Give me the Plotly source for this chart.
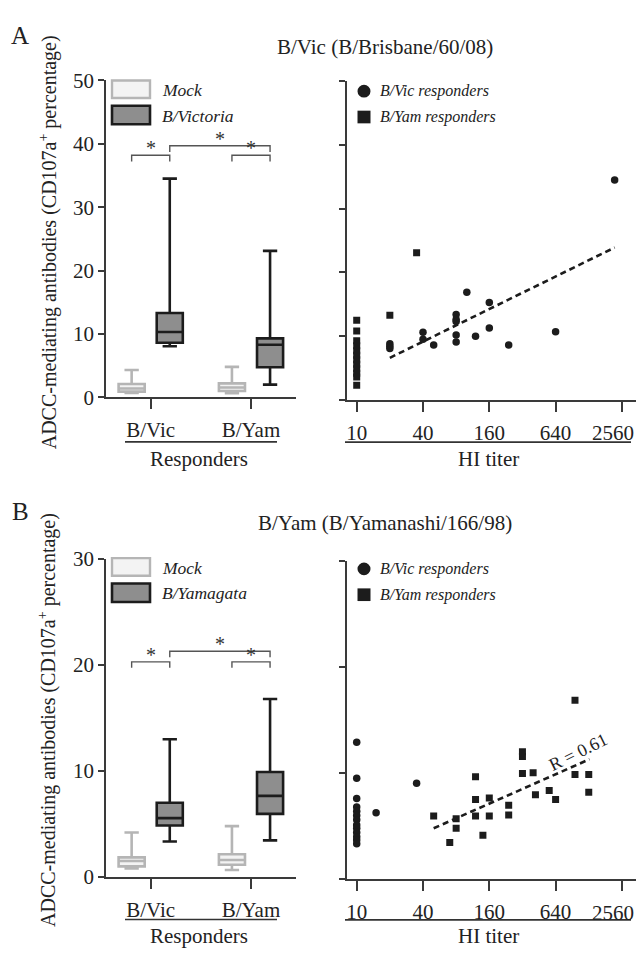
import plotly.graph_objects as go

W, H = 644, 957
FONT = "Liberation Serif"
INK = "#1c1c1c"
AXIS = "#3a3a3a"
MOCK_LINE = "#b5b5b5"
MOCK_FILL = "#f3f3f3"
STIM_FILL = "#8e8e8e"

# ---------------- data ----------------
groups = ["B/Vic", "B/Yam"]

# Panel A (B/Vic antigen) box statistics: [B/Vic responders, B/Yam responders]
a_mock_low = [0.7, 0.66]
a_mock_q1 = [0.9, 1.0]
a_mock_med = [1.4, 1.55]
a_mock_q3 = [2.1, 2.2]
a_mock_high = [4.3, 4.8]
a_stim_low = [8.05, 2.0]
a_stim_q1 = [8.6, 4.75]
a_stim_med = [10.3, 8.3]
a_stim_q3 = [13.3, 9.3]
a_stim_high = [34.5, 23.1]

# Panel B (B/Yam antigen) box statistics
b_mock_low = [0.8, 0.65]
b_mock_q1 = [1.0, 1.15]
b_mock_med = [1.5, 1.6]
b_mock_q3 = [1.85, 2.15]
b_mock_high = [4.2, 4.8]
b_stim_low = [3.35, 3.45]
b_stim_q1 = [4.85, 5.95]
b_stim_med = [5.55, 7.65]
b_stim_q3 = [7.0, 9.9]
b_stim_high = [13.0, 16.8]

# significance bracket heights
a_bracket_y = [38.2, 39.7, 38.2]
b_bracket_y = [20.3, 21.3, 20.3]

# Scatter panel A
a_vic_titer = [20, 20, 20, 40, 40, 50, 80, 80, 80, 80, 80, 100, 120, 160, 160, 240, 640, 2200]
a_vic_val = [8.8, 8.4, 8.05, 10.6, 9.5, 8.6, 13.4, 12.6, 12.3, 10.2, 9.1, 16.9, 10.0, 15.3, 11.3, 8.6, 10.7, 34.5]
a_yam_titer = [10, 10, 10, 10, 10, 10, 10, 10, 10, 10, 10, 10, 20, 35]
a_yam_val = [12.5, 10.8, 9.3, 8.5, 7.7, 7.0, 6.3, 5.6, 4.9, 4.2, 3.6, 2.3, 13.3, 23.1]
a_fit_titer = [20, 2200]
a_fit_val = [6.6, 23.9]

# Scatter panel B
b_vic_titer = [10, 10, 10, 10, 10, 10, 10, 10, 10, 10, 10, 10, 10, 15, 35]
b_vic_val = [12.9, 9.5, 7.6, 6.8, 6.4, 6.0, 5.6, 5.1, 4.8, 4.4, 4.0, 3.7, 3.35, 6.27, 9.05]
b_yam_titer = [50, 70, 80, 80, 120, 120, 120, 140, 160, 160, 240, 240, 320, 320, 320,
               400, 420, 560, 640, 960, 960, 1280, 1280]
b_yam_val = [5.95, 3.45, 5.7, 4.8, 9.66, 7.5, 5.96, 4.15, 7.64, 5.96, 6.97, 6.05, 12.0, 11.55, 9.96,
             10.03, 7.95, 8.35, 7.5, 16.85, 9.87, 9.87, 8.19]
b_fit_titer = [50, 1300]
b_fit_val = [4.8, 11.3]

titer_ticks = [10, 40, 160, 640, 2560]
titer_labels = ["10", "40", "160", "640", "2560"]

# ---------------- helpers (page offset of the figure is 8 px) ----------------
OX, OY = 8, 8

def px(x):
    return min(max((x - OX) / W, 0.0), 1.0)

def py(y):
    return min(max(1 - (y - OY) / H, 0.0), 1.0)

OFF = 0.19
BOXW = 0.26

fig = go.Figure()

def add_boxes(xa, ya, mock, stim):
    pos = list(range(len(groups)))
    fig.add_trace(go.Box(
        x=[p - OFF for p in pos], lowerfence=mock[0], q1=mock[1], median=mock[2], q3=mock[3],
        upperfence=mock[4], width=BOXW, whiskerwidth=0.55, fillcolor=MOCK_FILL,
        line=dict(color=MOCK_LINE, width=2.6), boxpoints=False, showlegend=False,
        xaxis=xa, yaxis=ya, hoverinfo="skip"))
    fig.add_trace(go.Box(
        x=[p + OFF for p in pos], lowerfence=stim[0], q1=stim[1], median=stim[2], q3=stim[3],
        upperfence=stim[4], width=BOXW, whiskerwidth=0.55, fillcolor=STIM_FILL,
        line=dict(color=INK, width=2.6), boxpoints=False, showlegend=False,
        xaxis=xa, yaxis=ya, hoverinfo="skip"))

add_boxes("x", "y",
          [a_mock_low, a_mock_q1, a_mock_med, a_mock_q3, a_mock_high],
          [a_stim_low, a_stim_q1, a_stim_med, a_stim_q3, a_stim_high])
add_boxes("x3", "y3",
          [b_mock_low, b_mock_q1, b_mock_med, b_mock_q3, b_mock_high],
          [b_stim_low, b_stim_q1, b_stim_med, b_stim_q3, b_stim_high])

def add_scatter(xa, ya, vt, vv, yt, yv, ft, fv):
    fig.add_trace(go.Scatter(x=ft, y=fv, mode="lines", xaxis=xa, yaxis=ya, showlegend=False,
                             line=dict(color=INK, width=2.6, dash="6px,4px"), hoverinfo="skip"))
    fig.add_trace(go.Scatter(x=vt, y=vv, mode="markers", xaxis=xa, yaxis=ya, showlegend=False,
                             marker=dict(symbol="circle", size=7.5, color=INK)))
    fig.add_trace(go.Scatter(x=yt, y=yv, mode="markers", xaxis=xa, yaxis=ya, showlegend=False,
                             marker=dict(symbol="square", size=7, color=INK)))

add_scatter("x2", "y2", a_vic_titer, a_vic_val, a_yam_titer, a_yam_val, a_fit_titer, a_fit_val)
add_scatter("x4", "y4", b_vic_titer, b_vic_val, b_yam_titer, b_yam_val, b_fit_titer, b_fit_val)

shapes = []
annotations = []

def brackets(xa, ya, levels, leg):
    pairs = [(0 - OFF, 0 + OFF), (0 + OFF, 1 + OFF), (1 - OFF, 1 + OFF)]
    for (x0, x1), lvl in zip(pairs, levels):
        shapes.append(dict(type="path", xref=xa, yref=ya,
                           path=f"M {x0},{lvl - leg} L {x0},{lvl} L {x1},{lvl} L {x1},{lvl - leg}",
                           line=dict(color="#555555", width=1.4)))
        annotations.append(dict(x=(x0 + x1) / 2, y=lvl, xref=xa, yref=ya, text="*",
                                showarrow=False, yanchor="bottom", yshift=-6,
                                font=dict(family=FONT, size=20, color="#333333")))

brackets("x", "y", a_bracket_y, 1.0)
brackets("x3", "y3", b_bracket_y, 0.55)

# ---------------- axes ----------------
TICKSIZE = 21
tickfont = dict(family=FONT, size=TICKSIZE, color="#222222")
common = dict(showline=True, linecolor=AXIS, linewidth=1.5, ticks="outside", tickcolor=AXIS,
              tickwidth=1.5, showgrid=False, zeroline=False, tickfont=tickfont, fixedrange=True)

LX0, LX1 = 106, 296
RX0, RX1 = 346.7, 652
xr_left = [(LX0 - 150.7) / 100.3, (LX1 - 150.7) / 100.3]
DEC = 110.12  # px per decade on the titer axis
xr_right = [1 + (RX0 - 356.7) / DEC, 1 + (RX1 - 356.7) / DEC]
# last titer label would run past the visible edge: it is drawn as an annotation instead
shown_labels = titer_labels[:-1] + [""]

layout = dict(
    width=W, height=H, margin=dict(l=0, r=0, t=0, b=0),
    paper_bgcolor="white", plot_bgcolor="white", boxmode="overlay",
    font=dict(family=FONT, color="#222222"),
    xaxis=dict(common, domain=[px(LX0), px(LX1)], range=xr_left, tickvals=[0, 1], ticktext=groups,
               ticklen=10, ticklabelstandoff=3, anchor="y"),
    yaxis=dict(common, domain=[py(395), py(70)], range=[0, 50], tickvals=[0, 10, 20, 30, 40, 50],
               ticklen=6, anchor="x"),
    xaxis2=dict(common, domain=[px(RX0), px(RX1)], type="log", range=xr_right, tickvals=titer_ticks,
                ticktext=shown_labels, ticklen=10, ticklabelstandoff=3, anchor="y2"),
    yaxis2=dict(common, domain=[py(397.7), py(70.7)], range=[0, 50], tickvals=[0, 10, 20, 30, 40, 50],
                showticklabels=False, ticklen=6, anchor="x2"),
    xaxis3=dict(common, domain=[px(LX0), px(LX1)], range=xr_left, tickvals=[0, 1], ticktext=groups,
                ticklen=10, ticklabelstandoff=3, anchor="y3"),
    yaxis3=dict(common, domain=[py(887), py(561)], range=[0, 30], tickvals=[0, 10, 20, 30],
                ticklen=6, anchor="x3"),
    xaxis4=dict(common, domain=[px(RX0), px(RX1)], type="log", range=xr_right, tickvals=titer_ticks,
                ticktext=shown_labels, ticklen=10, ticklabelstandoff=3, anchor="y4"),
    yaxis4=dict(common, domain=[py(889.3), py(562.7)], range=[0, 30], tickvals=[0, 10, 20, 30],
                showticklabels=False, ticklen=6, anchor="x4"),
)

# ---------------- decorations ----------------
def text(x, y, t, size=21, xanchor="center", yanchor="middle", angle=0, italic=False, color="#222222"):
    annotations.append(dict(x=px(x), y=py(y), xref="paper", yref="paper", text=(f"<i>{t}</i>" if italic else t),
                            showarrow=False, xanchor=xanchor, yanchor=yanchor, textangle=angle,
                            font=dict(family=FONT, size=size, color=color)))

def hline(x0, x1, y, color="#333333", width=1.6):
    shapes.append(dict(type="line", xref="paper", yref="paper", x0=px(x0), x1=px(x1), y0=py(y), y1=py(y),
                       line=dict(color=color, width=width)))

def rect(x0, y0, x1, y1, fill, line, lw):
    shapes.append(dict(type="rect", xref="paper", yref="paper", x0=px(x0), x1=px(x1), y0=py(y1), y1=py(y0),
                       fillcolor=fill, line=dict(color=line, width=lw)))

YT = "ADCC-mediating antibodies (CD107a<sup>+</sup> percentage)"

for (dy, axis_y, panel, title, stimname) in [(0, 397.7, "A", "B/Vic (B/Brisbane/60/08)", "B/Victoria"),
                                             (490, 889.3, "B", "B/Yam (B/Yamanashi/166/98)", "B/Yamagata")]:
    text(20, 24 + dy * 0.996, panel, size=25)
    text(385, 36 + dy * 0.996, title, size=21)
    text(48, 236 + dy, YT, size=20, angle=-90)
    # last titer tick label, right-aligned inside the visible area
    text(636, axis_y + 20, titer_labels[-1], size=TICKSIZE, xanchor="right", yanchor="top")
    # responders underline and label
    hline(125, 277, 440.7 + dy)
    text(199, 458 + dy, "Responders", size=21)
    # HI titer underline and label
    hline(345, 631, 441 + dy)
    text(488, 458 + dy, "HI titer", size=21)
    # box legend
    rect(112, 70 + dy, 150, 88 + dy, MOCK_FILL, MOCK_LINE, 2.4)
    rect(112, 96 + dy, 150, 115 + dy, STIM_FILL, INK, 2.6)
    text(160, 80 + dy, "Mock", size=17.5, xanchor="left", italic=True)
    text(160, 106 + dy, stimname, size=17.5, xanchor="left", italic=True)
    # scatter legend
    shapes.append(dict(type="circle", xref="paper", yref="paper", x0=px(357.5), x1=px(370.5),
                       y0=py(87.5 + dy), y1=py(74.5 + dy), fillcolor=INK, line=dict(width=0)))
    shapes.append(dict(type="rect", xref="paper", yref="paper", x0=px(357.5), x1=px(370.5),
                       y0=py(114 + dy), y1=py(101 + dy), fillcolor=INK, line=dict(width=0)))
    text(378, 81 + dy, "B/Vic responders", size=16, xanchor="left", italic=True)
    text(378, 108 + dy, "B/Yam responders", size=16, xanchor="left", italic=True)

# correlation label in panel B
annotations.append(dict(x=3.012, y=11.95, xref="x4", yref="y4", text="R = 0.61", showarrow=False,
                        textangle=-26, font=dict(family=FONT, size=18, color="#222222")))

layout["shapes"] = shapes
layout["annotations"] = annotations
fig.update_layout(**layout)

fig.write_html("out.html")
